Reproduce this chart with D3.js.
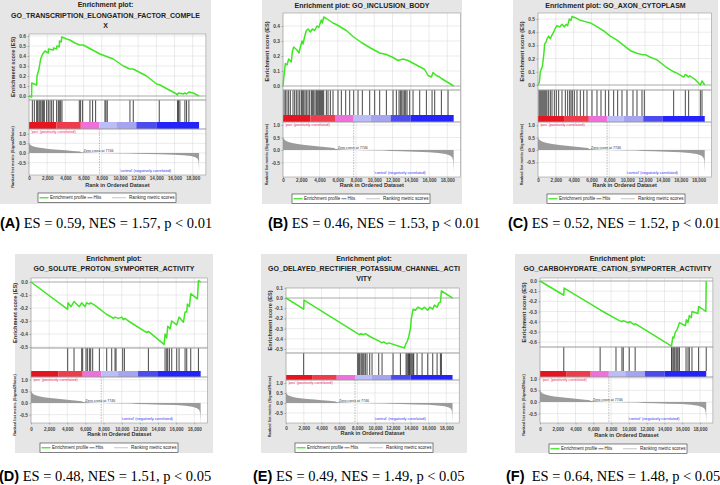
<!DOCTYPE html>
<html>
<head>
<meta charset="utf-8">
<script src="https://cdn.jsdelivr.net/npm/d3@7"></script>
<style>
  body { margin: 0; background: #fff; }
  svg { display: block; }
  text { font-family: "Liberation Sans", Arial, sans-serif; }
</style>
</head>
<body>
<svg id="fig" width="720" height="485"></svg>
<script>
// shared ranked list info
const nGenes = 18700, zeroCross = 7746, xEnd = 19450;
const xTicks = [0, 2000, 4000, 6000, 8000, 10000, 12000, 14000, 16000, 18000];
const rankTicks = [1, 0.5, 0, -0.5];
const metricRanks = [0, 100, 300, 600, 1000, 1600, 2400, 3200, 4000, 4800, 5600, 5750, 6600, 7746, 9000, 11000, 11700, 13000, 14500, 16000, 17000, 17800, 18300, 18550, 18650, 18700];
const metricValues = [0.52, 0.44, 0.37, 0.32, 0.28, 0.24, 0.2, 0.17, 0.14, 0.11, 0.08, 0.04, 0.02, 0, -0.01, -0.02, -0.04, -0.05, -0.07, -0.09, -0.12, -0.16, -0.22, -0.3, -0.45, -0.9];
const bandStarts = [0, 3000, 5700, 7746, 9600, 11800, 14000];
const bandColors = ["#e5141e", "#ef3c4c", "#ee70da", "#bcbcf6", "#a4a4f1", "#4c4cee", "#2424fa"];

// A
const titleA = ["Enrichment plot:", "GO_TRANSCRIPTION_ELONGATION_FACTOR_COMPLE", "X"];
const esTicksA = [0, 0.1, 0.2, 0.3, 0.4, 0.5, 0.6];
const esRanksA = [0, 290, 300, 850, 880, 1100, 1280, 1500, 1760, 2120, 2150, 2670, 2700, 3040, 3060, 3330, 3350, 3550, 3600, 4140, 4500, 5050, 5550, 5970, 7800, 9270, 10370, 11100, 11450, 12930, 14030, 14400, 16230, 16300, 16450, 16960, 17150, 17330, 17580, 18060, 18700];
const esValuesA = [0, -0.01, 0.13, 0.11, 0.2, 0.27, 0.37, 0.42, 0.45, 0.43, 0.47, 0.46, 0.48, 0.47, 0.5, 0.49, 0.55, 0.54, 0.59, 0.57, 0.56, 0.53, 0.51, 0.51, 0.42, 0.37, 0.3, 0.27, 0.27, 0.2, 0.12, 0.11, 0.02, 0.01, 0.03, 0.02, 0.03, 0.02, 0.04, 0.03, 0];
const hitsA = [366, 586, 842, 952, 1099, 1209, 1319, 1465, 1575, 1685, 1941, 2125, 2308, 2491, 2674, 3040, 3223, 3333, 3480, 3626, 5531, 5678, 5897, 6703, 6996, 7326, 8352, 8461, 8608, 11099, 11465, 14322, 16337, 16447, 16593, 17143, 17326, 17582];
const captionA = ["(A)", " ES = 0.59, NES = 1.57, p < 0.01"];

// B
const titleB = ["Enrichment plot: GO_INCLUSION_BODY"];
const esTicksB = [0, 0.1, 0.2, 0.3, 0.4];
const esRanksB = [0, 73, 256, 438, 621, 913, 1023, 1169, 1534, 1753, 1900, 2082, 2192, 2374, 2557, 2740, 2995, 3215, 3470, 3726, 3909, 4201, 4311, 4457, 4749, 5480, 5845, 6941, 7671, 8585, 9680, 10594, 11324, 12055, 12603, 13151, 13699, 14612, 15525, 15891, 16256, 16439, 16804, 17170, 17352, 17900, 18700];
const esValuesB = [0, 0.05, 0.15, 0.14, 0.18, 0.16, 0.23, 0.26, 0.24, 0.22, 0.26, 0.3, 0.28, 0.33, 0.37, 0.38, 0.36, 0.38, 0.37, 0.4, 0.39, 0.44, 0.42, 0.46, 0.45, 0.42, 0.41, 0.37, 0.33, 0.29, 0.25, 0.22, 0.21, 0.19, 0.17, 0.18, 0.17, 0.14, 0.11, 0.07, 0.06, 0.09, 0.07, 0.06, 0.05, 0.03, 0];
const hitsB = [110, 256, 438, 621, 804, 1096, 1279, 1461, 1644, 1827, 2009, 2119, 2265, 2411, 2557, 2740, 2922, 3105, 3215, 3361, 3507, 3653, 3763, 3909, 4018, 4128, 4237, 4347, 4457, 4749, 4932, 5187, 5480, 6027, 6393, 6868, 7306, 7745, 8219, 8694, 9498, 10046, 10594, 11324, 12055, 12420, 12712, 12859, 13005, 13151, 13297, 13443, 13589, 13881, 14247, 14977, 15708, 16329, 16621, 17352, 18082];
const captionB = ["(B)", " ES = 0.46, NES = 1.53, p < 0.01"];

// C
const titleC = ["Enrichment plot: GO_AXON_CYTOPLASM"];
const esTicksC = [0, 0.1, 0.2, 0.3, 0.4, 0.5];
const esRanksC = [0, 150, 262, 486, 635, 748, 935, 1009, 1196, 1383, 1570, 1757, 1944, 2131, 2430, 2691, 2953, 3177, 3327, 3514, 3701, 3813, 4187, 4747, 5308, 5869, 6429, 7364, 8111, 8859, 9607, 10354, 11102, 11663, 12036, 12597, 13345, 14279, 15214, 15588, 16335, 16522, 16896, 17008, 17643, 18204, 18391, 18700];
const esValuesC = [0, 0.02, 0.1, 0.14, 0.22, 0.31, 0.33, 0.35, 0.37, 0.35, 0.38, 0.4, 0.43, 0.45, 0.44, 0.46, 0.44, 0.46, 0.45, 0.5, 0.49, 0.52, 0.51, 0.49, 0.48, 0.47, 0.45, 0.41, 0.37, 0.34, 0.3, 0.26, 0.24, 0.23, 0.23, 0.21, 0.19, 0.14, 0.1, 0.09, 0.06, 0.08, 0.06, 0.07, 0.04, 0, 0.03, 0];
const hitsC = [112, 224, 336, 449, 561, 673, 785, 897, 1009, 1196, 1383, 1570, 1832, 2056, 2318, 2691, 3065, 3327, 3551, 3701, 3850, 4074, 4373, 4747, 5121, 5495, 6056, 6616, 7065, 7551, 7925, 8485, 8934, 9420, 9980, 10653, 11102, 11663, 11924, 15214, 16522, 16896, 18204, 18391];
const captionC = ["(C)", " ES = 0.52, NES = 1.52, p < 0.01"];

// D
const titleD = ["Enrichment plot:", "GO_SOLUTE_PROTON_SYMPORTER_ACTIVITY"];
const esTicksD = [0, -0.1, -0.2, -0.3, -0.4, -0.5];
const esRanksD = [0, 4044, 4080, 4411, 4742, 5330, 5588, 5955, 6139, 6433, 6580, 7058, 8345, 8896, 9080, 9264, 9631, 9999, 10183, 10366, 10734, 12756, 12940, 14667, 14777, 14961, 15072, 15329, 15513, 16064, 16321, 16799, 16983, 17167, 17240, 17461, 17608, 18343, 18453, 18700];
const esValuesD = [0, -0.21, -0.16, -0.19, -0.15, -0.19, -0.16, -0.19, -0.16, -0.17, -0.16, -0.18, -0.25, -0.27, -0.28, -0.27, -0.28, -0.27, -0.29, -0.28, -0.3, -0.39, -0.38, -0.48, -0.4, -0.43, -0.34, -0.36, -0.3, -0.33, -0.27, -0.31, -0.23, -0.23, -0.17, -0.19, -0.09, -0.13, 0.01, 0];
const hitsD = [4044, 4742, 5588, 5698, 6065, 6212, 6433, 6580, 6801, 7536, 8345, 8896, 9264, 9374, 10109, 10293, 12940, 14777, 14961, 15072, 15255, 15513, 16064, 16321, 16983, 17167, 17608, 18453];
const captionD = ["(D)", " ES = 0.48, NES = 1.51, p < 0.05"];

// E
const titleE = ["Enrichment plot:", "GO_DELAYED_RECTIFIER_POTASSIUM_CHANNEL_ACTI", "VITY"];
const esTicksE = [0.1, 0, -0.1, -0.2, -0.3, -0.4, -0.5];
const esRanksE = [0, 1985, 2022, 8052, 8276, 8426, 8726, 8913, 9475, 10411, 10786, 10973, 11347, 11535, 13295, 13445, 13594, 13782, 13969, 14081, 14268, 14531, 14793, 15280, 15542, 15916, 16141, 16478, 16665, 16965, 17152, 17339, 17452, 18700];
const esValuesE = [0, -0.11, -0.02, -0.35, -0.36, -0.35, -0.36, -0.35, -0.38, -0.42, -0.44, -0.43, -0.45, -0.44, -0.49, -0.45, -0.43, -0.38, -0.3, -0.2, -0.11, -0.12, -0.09, -0.11, -0.09, -0.12, -0.09, -0.11, -0.07, -0.09, -0.05, -0.04, 0.07, 0];
const hitsE = [1985, 8052, 8164, 8276, 8426, 8539, 8651, 8763, 8913, 9100, 9400, 9662, 10411, 10786, 12021, 12845, 13482, 13594, 13707, 13782, 13857, 13932, 14044, 14156, 14268, 14343, 14718, 15280, 15916, 16478, 16965, 17339, 17452];
const captionE = ["(E)", " ES = 0.49, NES = 1.49, p < 0.05"];

// F
const titleF = ["Enrichment plot:", "GO_CARBOHYDRATE_CATION_SYMPORTER_ACTIVITY"];
const esTicksF = [0, -0.1, -0.2, -0.3, -0.4, -0.5, -0.6];
const esRanksF = [0, 2676, 2713, 6691, 6876, 8921, 9218, 9367, 9962, 10110, 10593, 10705, 14794, 14942, 15054, 15240, 15426, 15537, 15686, 16355, 16466, 16652, 16801, 17024, 17098, 17767, 17842, 18659, 18700];
const esValuesF = [0, -0.14, -0.07, -0.28, -0.29, -0.39, -0.4, -0.39, -0.41, -0.4, -0.43, -0.42, -0.64, -0.55, -0.56, -0.5, -0.48, -0.45, -0.41, -0.44, -0.38, -0.41, -0.34, -0.36, -0.3, -0.32, -0.25, -0.3, 0];
const hitsF = [2676, 6765, 8549, 9218, 9367, 10036, 10705, 14794, 14942, 15054, 15166, 15314, 15426, 15537, 15686, 16429, 16652, 16801, 17098, 17842, 18700];
const captionF = ["(F)", "  ES = 0.64, NES = 1.48, p < 0.05"];

const panels = [
  {title: titleA, esTicks: esTicksA, ranks: esRanksA, values: esValuesA, hits: hitsA, caption: captionA},
  {title: titleB, esTicks: esTicksB, ranks: esRanksB, values: esValuesB, hits: hitsB, caption: captionB},
  {title: titleC, esTicks: esTicksC, ranks: esRanksC, values: esValuesC, hits: hitsC, caption: captionC},
  {title: titleD, esTicks: esTicksD, ranks: esRanksD, values: esValuesD, hits: hitsD, caption: captionD},
  {title: titleE, esTicks: esTicksE, ranks: esRanksE, values: esValuesE, hits: hitsE, caption: captionE},
  {title: titleF, esTicks: esTicksF, ranks: esRanksF, values: esValuesF, hits: hitsF, caption: captionF}
];

// where each panel sits on the page
const layouts = [
  {box: [0, 0, 211, 204], titleY: [5, 16, 26], x0: 29, x18: 192.7, esTop: 34, esBot: 100, esY0: 96, esPer: 100, hitsBot: 122, barBot: 129, rY0: 153, rPer: 19.3, rBot: 175, xlabY: 178, xtitleY: 185, legY: 193, capX: 0, capY: 228},
  {box: [262, 0, 200, 204], titleY: [6], x0: 283, x18: 447.3, esTop: 13, esBot: 90, esY0: 86, esPer: 150, hitsBot: 115, barBot: 122, rY0: 150, rPer: 25, rBot: 177, xlabY: 180, xtitleY: 185.5, legY: 194, capX: 268, capY: 228},
  {box: [513, 0, 205, 204], titleY: [6], x0: 538, x18: 698.5, esTop: 13, esBot: 90, esY0: 85, esPer: 132, hitsBot: 116, barBot: 122, rY0: 150, rPer: 24.7, rBot: 177, xlabY: 180, xtitleY: 185.5, legY: 194, capX: 508, capY: 228},
  {box: [15, 254, 198, 199], titleY: [259, 269], x0: 31, x18: 194.3, esTop: 278, esBot: 348, esY0: 282, esPer: 130, hitsBot: 371, barBot: 377, rY0: 403, rPer: 23.3, rBot: 423, xlabY: 429, xtitleY: 434.5, legY: 443, capX: -1, capY: 481},
  {box: [261, 254, 206, 199], titleY: [259, 269, 279], x0: 286, x18: 446.3, esTop: 288, esBot: 353, esY0: 298, esPer: 102, hitsBot: 375, barBot: 380, rY0: 403, rPer: 20, rBot: 423, xlabY: 428, xtitleY: 433.5, legY: 443, capX: 253, capY: 481},
  {box: [515, 254, 205, 199], titleY: [259, 269], x0: 540, x18: 700, esTop: 278, esBot: 347, esY0: 281, esPer: 101.7, hitsBot: 371, barBot: 377, rY0: 402, rPer: 23.3, rBot: 423, xlabY: 429, xtitleY: 435, legY: 444, capX: 506, capY: 481}
];

const svg = d3.select("#fig");

function drawPanel(P, L) {
  const g = svg.append("g");
  const x = d3.scaleLinear().domain([0, 18000]).range([L.x0, L.x18]);
  const xR = x(xEnd);
  const yES = d3.scaleLinear().domain([0, 1]).range([L.esY0, L.esY0 - L.esPer]);
  const yR = d3.scaleLinear().domain([0, 1]).range([L.rY0, L.rY0 - L.rPer]);
  const cx = L.box[0] + L.box[2] / 2;

  g.append("rect")
    .attr("x", L.box[0]).attr("y", L.box[1])
    .attr("width", L.box[2]).attr("height", L.box[3])
    .attr("fill", "#e6e6e6");

  P.title.forEach(function (t, i) {
    g.append("text")
      .attr("x", cx).attr("y", L.titleY[i]).attr("dy", "0.35em")
      .attr("text-anchor", "middle")
      .attr("font-size", 7).attr("font-weight", "bold").attr("fill", "#222")
      .text(t);
  });

  // white plot area
  g.append("rect")
    .attr("x", L.x0).attr("y", L.esTop)
    .attr("width", xR - L.x0).attr("height", L.rBot - L.esTop)
    .attr("fill", "#fff");

  // grid
  const grid = g.append("g").attr("stroke", "#d6d6d6").attr("stroke-width", 0.5);
  xTicks.forEach(function (t) {
    grid.append("line").attr("x1", x(t)).attr("x2", x(t)).attr("y1", L.esTop).attr("y2", L.hitsBot);
    grid.append("line").attr("x1", x(t)).attr("x2", x(t)).attr("y1", L.barBot).attr("y2", L.rBot);
  });
  P.esTicks.forEach(function (t) {
    grid.append("line").attr("x1", L.x0).attr("x2", xR).attr("y1", yES(t)).attr("y2", yES(t));
  });
  rankTicks.forEach(function (t) {
    grid.append("line").attr("x1", L.x0).attr("x2", xR).attr("y1", yR(t)).attr("y2", yR(t));
  });
  g.append("line").attr("x1", L.x0).attr("x2", xR).attr("y1", yES(0)).attr("y2", yES(0))
    .attr("stroke", "#9a9a9a").attr("stroke-width", 0.7);

  // hits
  g.append("g").selectAll("line").data(P.hits).enter().append("line")
    .attr("x1", d => x(d)).attr("x2", d => x(d))
    .attr("y1", L.esBot).attr("y2", L.hitsBot)
    .attr("stroke", "#262626").attr("stroke-width", 0.85);

  // colour bar
  g.append("g").selectAll("rect").data(bandStarts).enter().append("rect")
    .attr("x", d => x(d))
    .attr("width", (d, i) => x(i + 1 < bandStarts.length ? bandStarts[i + 1] : nGenes) - x(d))
    .attr("y", L.hitsBot).attr("height", L.barBot - L.hitsBot)
    .attr("fill", (d, i) => bandColors[i]);

  // ranked list metric
  const metric = metricRanks.map((r, i) => [r, metricValues[i]]);
  g.append("path").datum(metric)
    .attr("d", d3.area().x(d => x(d[0])).y0(yR(0)).y1(d => yR(d[1])))
    .attr("fill", "#9b9b9b");
  g.append("line")
    .attr("x1", x(zeroCross)).attr("x2", x(zeroCross))
    .attr("y1", L.barBot).attr("y2", L.rBot)
    .attr("stroke", "#8a8a8a").attr("stroke-width", 0.6).attr("stroke-dasharray", "1.5,1.2");
  g.append("text")
    .attr("x", x(zeroCross) - 1).attr("y", yR(0) - 1.3)
    .attr("text-anchor", "middle").attr("font-size", 3.6).attr("fill", "#333")
    .text("Zero cross at " + zeroCross);
  g.append("text")
    .attr("x", L.x0 + 2).attr("y", L.barBot + 3.8)
    .attr("font-size", 3.8).attr("fill", "#f0306e")
    .text("'pos' (positively correlated)");
  g.append("text")
    .attr("x", x(12800)).attr("y", L.rBot - 2.8)
    .attr("text-anchor", "middle").attr("font-size", 3.8).attr("fill", "#3535ee")
    .text("'control' (negatively correlated)");

  // running enrichment score
  const es = P.ranks.map((r, i) => [r, P.values[i]]);
  g.append("path").datum(es)
    .attr("d", d3.line().x(d => x(d[0])).y(d => yES(d[1])))
    .attr("fill", "none").attr("stroke", "#40e624").attr("stroke-width", 1.5)
    .attr("stroke-linejoin", "round");

  // frames
  const frame = g.append("g").attr("fill", "none").attr("stroke", "#9a9a9a").attr("stroke-width", 0.6);
  frame.append("rect").attr("x", L.x0).attr("y", L.esTop).attr("width", xR - L.x0).attr("height", L.esBot - L.esTop);
  frame.append("rect").attr("x", L.x0).attr("y", L.esBot).attr("width", xR - L.x0).attr("height", L.barBot - L.esBot);
  frame.append("rect").attr("x", L.x0).attr("y", L.barBot).attr("width", xR - L.x0).attr("height", L.rBot - L.barBot);

  // axes
  const yAxis = g.append("g").attr("transform", "translate(" + L.x0 + ",0)")
    .call(d3.axisLeft(yES).tickValues(P.esTicks).tickFormat(d => d.toFixed(1)).tickSize(1.5).tickPadding(1.5));
  const rAxis = g.append("g").attr("transform", "translate(" + L.x0 + ",0)")
    .call(d3.axisLeft(yR).tickValues(rankTicks).tickFormat(d => d.toFixed(1)).tickSize(1.5).tickPadding(1.5));
  const xAxis = g.append("g").attr("transform", "translate(0," + L.rBot + ")")
    .call(d3.axisBottom(x).tickValues(xTicks).tickFormat(d3.format(",")).tickSize(1.5).tickPadding(L.xlabY - L.rBot - 3.1));
  [yAxis, rAxis, xAxis].forEach(function (a) {
    a.select(".domain").remove();
    a.selectAll("line").attr("stroke", "#777").attr("stroke-width", 0.5);
    a.selectAll("text").attr("font-size", a === xAxis ? 4.6 : 4.8).attr("font-weight", "bold").attr("fill", "#444")
      .attr("font-family", "Liberation Sans, Arial, sans-serif");
  });

  g.append("text")
    .attr("transform", "translate(" + (L.x0 - 16) + "," + ((L.esTop + L.esBot) / 2) + ") rotate(-90)")
    .attr("text-anchor", "middle").attr("dy", "0.35em")
    .attr("font-size", 5.6).attr("font-weight", "bold").attr("fill", "#333")
    .text("Enrichment score (ES)");
  g.append("text")
    .attr("transform", "translate(" + (L.x0 - 16) + "," + ((L.barBot + L.rBot) / 2 + 5) + ") rotate(-90)")
    .attr("text-anchor", "middle").attr("dy", "0.35em")
    .attr("font-size", 3.9).attr("font-weight", "bold").attr("fill", "#333")
    .text("Ranked list metric (Signal2Noise)");
  g.append("text")
    .attr("x", (L.x0 + xR) / 2).attr("y", L.xtitleY).attr("dy", "0.35em")
    .attr("text-anchor", "middle")
    .attr("font-size", 5.5).attr("font-weight", "bold").attr("fill", "#333")
    .text("Rank in Ordered Dataset");

  // legend
  const lx = L.x0 + 9, ly = L.legY;
  const leg = g.append("g");
  leg.append("rect").attr("x", lx).attr("y", ly).attr("width", 138).attr("height", 9.5)
    .attr("fill", "#fff").attr("stroke", "#333").attr("stroke-width", 0.6);
  const mid = ly + 4.75;
  leg.append("line").attr("x1", lx + 1.5).attr("x2", lx + 10.5).attr("y1", mid).attr("y2", mid)
    .attr("stroke", "#40e624").attr("stroke-width", 1.3);
  leg.append("line").attr("x1", lx + 49.5).attr("x2", lx + 54.5).attr("y1", mid).attr("y2", mid)
    .attr("stroke", "#333").attr("stroke-width", 0.7);
  leg.append("line").attr("x1", lx + 74).attr("x2", lx + 88).attr("y1", mid).attr("y2", mid)
    .attr("stroke", "#aaa").attr("stroke-width", 0.7);
  leg.append("text").attr("x", lx + 12).attr("y", mid).attr("dy", "0.35em")
    .attr("font-size", 4.5).attr("fill", "#222").text("Enrichment profile");
  leg.append("text").attr("x", lx + 55.5).attr("y", mid).attr("dy", "0.35em")
    .attr("font-size", 4.5).attr("fill", "#222").text("Hits");
  leg.append("text").attr("x", lx + 136.5).attr("y", mid).attr("dy", "0.35em")
    .attr("text-anchor", "end")
    .attr("font-size", 4.6).attr("fill", "#222").text("Ranking metric scores");

  // caption
  const cap = svg.append("text").attr("x", L.capX).attr("y", L.capY)
    .attr("font-size", 14.5).attr("fill", "#000").style("white-space", "pre");
  cap.append("tspan").attr("font-family", "Liberation Sans, Arial, sans-serif").attr("font-weight", "bold").text(P.caption[0]);
  cap.append("tspan").attr("font-family", "Liberation Serif, Times New Roman, serif").text(P.caption[1]);
}

panels.forEach(function (p, i) { drawPanel(p, layouts[i]); });
</script>
</body>
</html>
